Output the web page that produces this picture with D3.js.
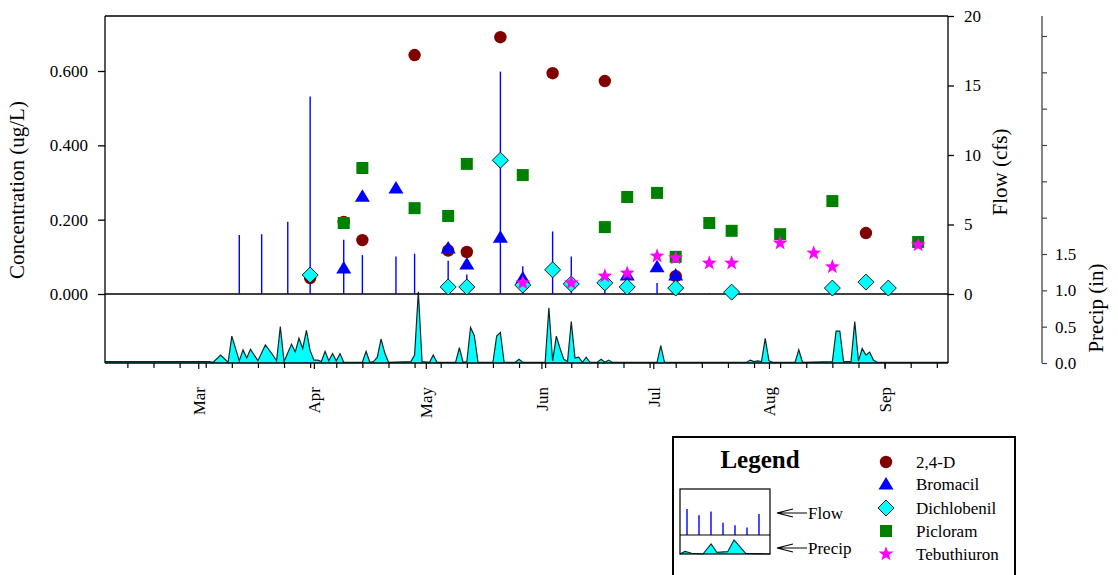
<!DOCTYPE html>
<html><head><meta charset="utf-8">
<script src="https://cdn.jsdelivr.net/npm/d3@7"></script>
<style>
body{margin:0;background:#fff}
svg{display:block;font-family:"Liberation Serif","Times New Roman",serif}
</style>
</head><body>
<svg id="c" width="1118" height="575"></svg>
<script>
// ---------------- data ----------------
const xStart = "2002-02-04", xEnd = "2002-09-18";
const monthLabels = ["Mar","Apr","May","Jun","Jul","Aug","Sep"];
const concTicks = [0, 0.2, 0.4, 0.6];
const flowTicks = [0, 5, 10, 15, 20];
const precipTicks = [0, 0.5, 1.0, 1.5, 2.0, 2.5, 3.0, 3.5, 4.0, 4.5];
const precipLabelMax = 1.5;

const flowDates  = ["2002-03-12","2002-03-18","2002-03-25","2002-03-31","2002-04-09","2002-04-14","2002-04-23","2002-04-28","2002-05-07","2002-05-12","2002-05-21","2002-05-27","2002-06-04","2002-06-09","2002-06-18","2002-07-02","2002-07-16"];
const flowValues = [4.24, 4.3, 5.2, 14.2, 3.9, 2.8, 2.7, 2.9, 2.4, 1.4, 16.0, 2.0, 4.5, 2.7, 1.2, 0.8, 0.05];

const d24Dates  = ["2002-03-31","2002-04-09","2002-04-14","2002-04-28","2002-05-07","2002-05-12","2002-05-21","2002-06-04","2002-06-18","2002-07-07","2002-08-27"];
const d24Values = [0.043, 0.194, 0.145, 0.643, 0.117, 0.113, 0.691, 0.594, 0.573, 0.048, 0.164];

const bromDates  = ["2002-04-09","2002-04-14","2002-04-23","2002-05-07","2002-05-12","2002-05-21","2002-05-27","2002-06-24","2002-07-02","2002-07-07"];
const bromValues = [0.070, 0.263, 0.285, 0.124, 0.081, 0.153, 0.043, 0.051, 0.073, 0.051];

const dichDates  = ["2002-03-31","2002-05-07","2002-05-12","2002-05-21","2002-05-27","2002-06-04","2002-06-09","2002-06-18","2002-06-24","2002-07-07","2002-07-22","2002-08-18","2002-08-27","2002-09-02"];
const dichValues = [0.051, 0.019, 0.019, 0.360, 0.024, 0.065, 0.027, 0.030, 0.019, 0.016, 0.005, 0.016, 0.032, 0.016];

const picDates  = ["2002-04-09","2002-04-14","2002-04-28","2002-05-07","2002-05-12","2002-05-27","2002-06-18","2002-06-24","2002-07-02","2002-07-07","2002-07-16","2002-07-22","2002-08-04","2002-08-18","2002-09-10"];
const picValues = [0.191, 0.339, 0.231, 0.210, 0.350, 0.320, 0.180, 0.261, 0.272, 0.100, 0.191, 0.170, 0.161, 0.250, 0.140];

const tebDates  = ["2002-05-27","2002-06-09","2002-06-18","2002-06-24","2002-07-02","2002-07-07","2002-07-16","2002-07-22","2002-08-04","2002-08-13","2002-08-18","2002-09-10"];
const tebValues = [0.030, 0.030, 0.048, 0.056, 0.102, 0.097, 0.083, 0.083, 0.137, 0.110, 0.073, 0.132];

const precipDates = ["2002-02-04","2002-03-04","2002-03-05","2002-03-07","2002-03-09","2002-03-10","2002-03-12","2002-03-13","2002-03-14","2002-03-15","2002-03-17","2002-03-19","2002-03-21","2002-03-22","2002-03-23","2002-03-24","2002-03-26","2002-03-27","2002-03-28","2002-03-29","2002-03-30","2002-03-31","2002-04-01","2002-04-02","2002-04-03","2002-04-04","2002-04-05","2002-04-06","2002-04-07","2002-04-08","2002-04-09","2002-04-14","2002-04-15","2002-04-16","2002-04-17","2002-04-18","2002-04-19","2002-04-20","2002-04-21","2002-04-27","2002-04-28","2002-04-29","2002-04-30","2002-05-02","2002-05-03","2002-05-04","2002-05-09","2002-05-10","2002-05-11","2002-05-12","2002-05-13","2002-05-14","2002-05-15","2002-05-19","2002-05-20","2002-05-21","2002-05-22","2002-05-25","2002-05-26","2002-05-27","2002-06-02","2002-06-03","2002-06-04","2002-06-05","2002-06-06","2002-06-07","2002-06-08","2002-06-09","2002-06-10","2002-06-11","2002-06-12","2002-06-13","2002-06-14","2002-06-16","2002-06-17","2002-06-18","2002-06-19","2002-06-20","2002-07-02","2002-07-03","2002-07-04","2002-07-26","2002-07-27","2002-07-28","2002-07-29","2002-07-30","2002-07-31","2002-08-01","2002-08-02","2002-08-08","2002-08-09","2002-08-10","2002-08-18","2002-08-19","2002-08-20","2002-08-21","2002-08-23","2002-08-24","2002-08-25","2002-08-26","2002-08-27","2002-08-28","2002-08-29","2002-08-30","2002-09-18"];
const precipValues = [0.02,0.02,0.01,0.11,0.01,0.37,0.03,0.18,0.07,0.19,0.03,0.25,0.11,0.03,0.50,0.02,0.26,0.15,0.34,0.20,0.45,0.17,0.04,0.04,0.02,0.16,0.03,0.13,0.03,0.13,0.01,0.01,0.16,0.01,0.02,0.08,0.33,0.14,0.01,0.02,0.11,0.98,0.02,0.01,0.11,0.01,0.01,0.21,0.01,0.02,0.49,0.38,0.01,0.01,0.37,0.42,0.01,0.01,0.05,0.01,0.01,0.76,0.03,0.37,0.20,0.05,0.02,0.57,0.07,0.08,0.01,0.08,0.01,0.01,0.05,0.01,0.04,0.01,0.01,0.24,0.01,0.01,0.04,0.02,0.03,0.02,0.34,0.03,0.01,0.01,0.18,0.01,0.02,0.44,0.44,0.02,0.02,0.57,0.03,0.20,0.11,0.15,0.04,0.01,0.01];

// legend mini chart
const legFlow = [0.72, 0.55, 0.65, 0.34, 0.27, 0.21, 0.58];
const legPrecip = [0.0, 0.22, 0.06, 0.0, 0.86, 0.14, 0.2, 1.2, 0.05, 0.0];
const legPrecipX = [0, 0.055, 0.13, 0.255, 0.345, 0.41, 0.53, 0.6, 0.73, 1.0];

const seriesNames = ["2,4-D","Bromacil","Dichlobenil","Picloram","Tebuthiuron"];
const seriesColors = ["#800000","#0000ff","#00ffff","#008000","#ff00ff"];

// ---------------- layout ----------------
const svg = d3.select("#c");
const L = 105, R = 948, T = 16, B = 363, Z = 294;
const parse = d3.utcParse("%Y-%m-%d");
const x = d3.scaleUtc().domain([parse(xStart), parse(xEnd)]).range([L, R]);
const yC = d3.scaleLinear().domain([0, 0.6]).range([Z, 71]);
const yF = d3.scaleLinear().domain([0, 20]).range([Z, T]);
const yP = d3.scaleLinear().domain([0, 1.5]).range([B, 254]);
const FS = 17;

function triPath(){ return "M0,-7L7.5,5.5L-7.5,5.5Z"; }
function diaPath(){ return "M0,-8L8,0L0,8L-8,0Z"; }
function sqPath(){ return "M-6,-6H6V6H-6Z"; }
function starPath(){
  let p=[]; for(let i=0;i<10;i++){const r=i%2?3.2:7.8; const a=-Math.PI/2+i*Math.PI/5; p.push([r*Math.cos(a), r*Math.sin(a)]);}
  return "M"+p.map(q=>q[0].toFixed(2)+","+q[1].toFixed(2)).join("L")+"Z";
}
function circPath(){ return d3.symbol(d3.symbolCircle, Math.PI*6.2*6.2)(); }
const symFns = [circPath, triPath, diaPath, sqPath, starPath];
const symStroke = [null, null, "#1a1a1a", null, null];

function styleAxis(g){
  g.attr("font-family",null).attr("font-size",null);
  g.select(".domain").remove();
  g.selectAll("text").attr("font-size",FS);
}

// ---------------- precip area ----------------
const pData = precipDates.map((d,i)=>({d:parse(d), v:precipValues[i]}));
svg.append("path").datum(pData)
  .attr("d", d3.area().x(d=>x(d.d)).y0(yP(0)).y1(d=>yP(d.v)))
  .attr("fill","#00ffff");
svg.append("path").datum(pData)
  .attr("d", d3.line().x(d=>x(d.d)).y(d=>yP(d.v)))
  .attr("fill","none").attr("stroke","#0a2a2a").attr("stroke-width",1.2);

// ---------------- frame ----------------
const frame = svg.append("g").attr("stroke","#000").attr("stroke-width",1.3);
frame.append("line").attr("x1",L).attr("x2",R).attr("y1",T).attr("y2",T);
frame.append("line").attr("x1",L).attr("x2",L).attr("y1",T).attr("y2",B);
frame.append("line").attr("x1",R).attr("x2",R).attr("y1",T).attr("y2",B);
frame.append("line").attr("x1",L).attr("x2",R).attr("y1",B).attr("y2",B);
frame.append("line").attr("x1",L).attr("x2",R).attr("y1",yC(0)).attr("y2",yC(0));

// left axis
const gl = svg.append("g").attr("transform",`translate(${L},0)`)
  .call(d3.axisLeft(yC).tickValues(concTicks).tickFormat(d3.format(".3f")).tickSize(7).tickPadding(10).tickSizeOuter(0));
styleAxis(gl);
gl.selectAll("line").attr("stroke-width",1.3);
svg.append("text").attr("transform",`translate(24,${(yC(0)+T)/2+35}) rotate(-90)`)
  .attr("text-anchor","middle").attr("font-size",21).text("Concentration (ug/L)");

// right flow axis
const gr = svg.append("g").attr("transform",`translate(${R},0)`)
  .call(d3.axisRight(yF).tickValues(flowTicks).tickFormat(d3.format("d")).tickSize(6).tickPadding(10).tickSizeOuter(0));
styleAxis(gr);
gr.selectAll("line").attr("stroke-width",1.3);
svg.append("text").attr("transform",`translate(1002,172) rotate(-90)`)
  .attr("text-anchor","middle").attr("dominant-baseline","middle").attr("font-size",21).text("Flow (cfs)");

// precip axis
const PX = 1042;
const gp = svg.append("g").attr("transform",`translate(${PX},0)`)
  .call(d3.axisRight(yP).tickValues(precipTicks).tickFormat(v=> v<=precipLabelMax+1e-9 ? d3.format(".1f")(v) : "").tickSize(5).tickPadding(8).tickSizeOuter(0));
styleAxis(gp);
gp.selectAll("line").attr("stroke","#444").attr("stroke-width",1.2);
svg.append("line").attr("x1",PX).attr("x2",PX).attr("y1",T).attr("y2",B).attr("stroke","#444").attr("stroke-width",1.3);
svg.append("text").attr("transform",`translate(1098,308) rotate(-90)`)
  .attr("text-anchor","middle").attr("dominant-baseline","middle").attr("font-size",21).text("Precip (in)");

// bottom axis: weekly ticks + month ticks
const [d0,d1] = x.domain();
const weeks = d3.utcSunday.range(d0, d1);
const months = d3.utcMonth.range(d0, d1);
const gw = svg.append("g").attr("transform",`translate(0,${B})`)
  .call(d3.axisBottom(x).tickValues(weeks).tickFormat("").tickSize(5).tickSizeOuter(0));
styleAxis(gw);
gw.selectAll("line").attr("stroke-width",1.2);
const gm = svg.append("g").attr("transform",`translate(0,${B})`)
  .call(d3.axisBottom(x).tickValues(months).tickFormat((d,i)=>monthLabels[i]).tickSize(6).tickSizeOuter(0));
styleAxis(gm);
gm.selectAll("line").attr("stroke-width",1.2);
gm.selectAll("text")
  .attr("transform","rotate(-90)").attr("x",-24).attr("y",0).attr("dy","0.35em").attr("text-anchor","end");

// ---------------- flow stems ----------------
svg.append("g").selectAll("line").data(flowDates.map((d,i)=>({d:parse(d),v:flowValues[i]}))).join("line")
  .attr("x1",d=>x(d.d)).attr("x2",d=>x(d.d)).attr("y1",yF(0)).attr("y2",d=>yF(d.v))
  .attr("stroke","#0000ff").attr("stroke-width",1.4);

// ---------------- markers ----------------
const seriesData = [
  [d24Dates,d24Values],[bromDates,bromValues],[dichDates,dichValues],[picDates,picValues],[tebDates,tebValues]
];
const drawOrder = [0,3,1,2,4];
drawOrder.forEach(k=>{
  const [ds,vs] = seriesData[k];
  svg.append("g").selectAll("path").data(ds.map((d,i)=>({d:parse(d),v:vs[i]}))).join("path")
    .attr("transform",d=>`translate(${x(d.d)},${yC(d.v)})`)
    .attr("d",symFns[k]())
    .attr("fill",seriesColors[k])
    .attr("stroke",symStroke[k]||"none").attr("stroke-width",1);
});

// ---------------- legend ----------------
const lg = svg.append("g");
lg.append("rect").attr("x",673).attr("y",437).attr("width",342).attr("height",160)
  .attr("fill","#fff").attr("stroke","#000").attr("stroke-width",2);
lg.append("text").attr("x",760).attr("y",468).attr("text-anchor","middle")
  .attr("font-size",25).attr("font-weight","bold").text("Legend");
const mx0=680, mx1=770, my0=489, myD=535, my1=554;
const mFx = d3.scalePoint().domain(d3.range(legFlow.length)).range([687,759]);
const mFy = d3.scaleLinear().domain([0,1]).range([myD, myD-36]);
const mPx = d3.scaleLinear().domain([0,1]).range([mx0,mx1]);
const mPy = d3.scaleLinear().domain([0,1.2]).range([my1, my1-14]);
const mp = legPrecip.map((v,i)=>({x:legPrecipX[i], v}));
lg.append("path").datum(mp).attr("d",d3.area().x(d=>mPx(d.x)).y0(my1).y1(d=>mPy(d.v))).attr("fill","#00ffff");
lg.append("path").datum(mp).attr("d",d3.line().x(d=>mPx(d.x)).y(d=>mPy(d.v))).attr("fill","none").attr("stroke","#0a2a2a").attr("stroke-width",1.1);
lg.selectAll(".mf").data(legFlow).join("line").attr("class","mf")
  .attr("x1",(d,i)=>mFx(i)).attr("x2",(d,i)=>mFx(i)).attr("y1",myD).attr("y2",d=>mFy(d))
  .attr("stroke","#0000ff").attr("stroke-width",1.4);
lg.append("rect").attr("x",mx0).attr("y",my0).attr("width",mx1-mx0).attr("height",my1-my0)
  .attr("fill","none").attr("stroke","#000").attr("stroke-width",1.2);
lg.append("line").attr("x1",mx0).attr("x2",mx1).attr("y1",myD).attr("y2",myD).attr("stroke","#000").attr("stroke-width",1.2);
[["Flow",513],["Precip",548]].forEach(([t,yy])=>{
  lg.append("path").attr("d",`M807,${yy}H777M793,${yy-4}L777,${yy}L793,${yy+4}`)
    .attr("fill","none").attr("stroke","#000").attr("stroke-width",1.1);
  lg.append("text").attr("x",808).attr("y",yy).attr("dy","0.35em").attr("font-size",FS).text(t);
});
const rowY = [462,484,508,531,554];
seriesNames.forEach((n,k)=>{
  lg.append("path").attr("transform",`translate(886,${rowY[k]})`).attr("d",symFns[k]())
    .attr("fill",seriesColors[k]).attr("stroke",symStroke[k]||"none").attr("stroke-width",1);
  lg.append("text").attr("x",916).attr("y",rowY[k]).attr("dy","0.35em").attr("font-size",FS).text(n);
});
</script>
</body></html>
